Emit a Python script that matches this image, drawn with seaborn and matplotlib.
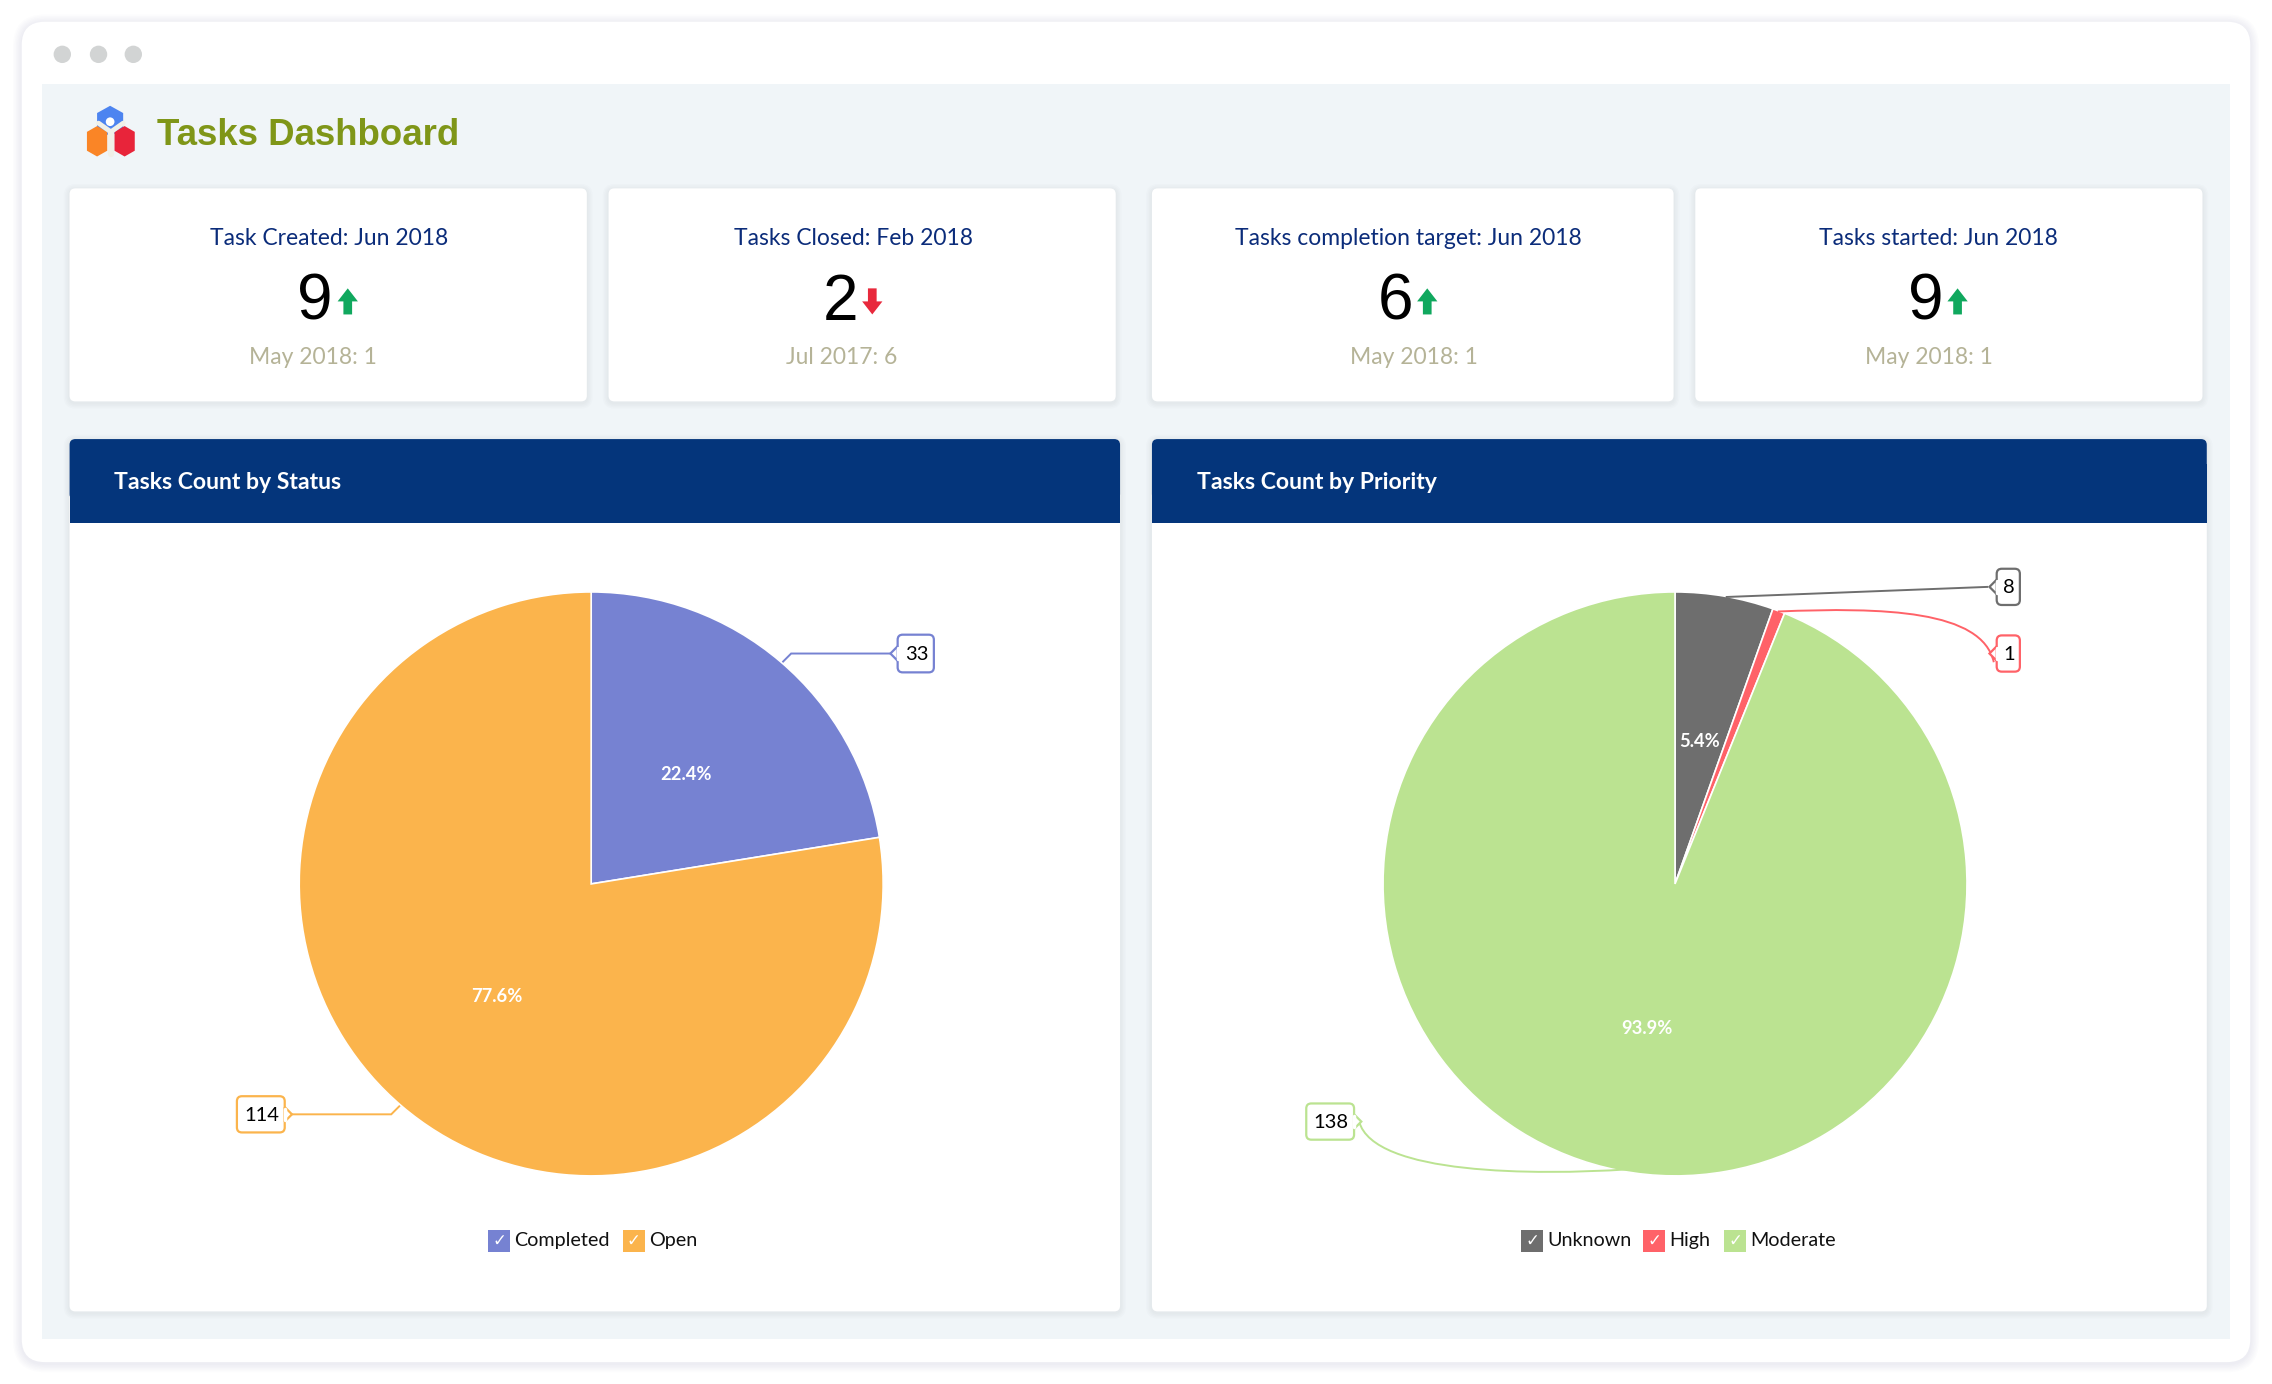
import matplotlib
matplotlib.use("Agg")
import matplotlib.pyplot as plt
import seaborn as sb
from matplotlib.patches import FancyBboxPatch, Polygon, Rectangle, Circle, PathPatch
from matplotlib.path import Path

# kpi cards
kpi_titles = ["Task Created: Jun 2018", "Tasks Closed: Feb 2018", "Tasks completion target: Jun 2018", "Tasks started: Jun 2018"]
kpi_values = [9, 2, 6, 9]
kpi_prev = ["May 2018: 1", "Jul 2017: 6", "May 2018: 1", "May 2018: 1"]
kpi_up = [True, False, True, True]

# pies
status_labels = ["Completed", "Open"]
status_counts = [33, 114]
status_colors = ["#7682D2", "#FBB44C"]
priority_labels = ["Unknown", "High", "Moderate"]
priority_counts = [8, 1, 138]
priority_colors = ["#6E6E6E", "#FF6268", "#BBE391"]

NAVY = "#04357B"
W, H = 1568, 955.1

sb.set_theme(style="white")
plt.rcParams["font.family"] = ["Lato", "DejaVu Sans"]

fig = plt.figure(figsize=(22.72, 13.84), dpi=100, facecolor="white")
bg = fig.add_axes([0, 0, 1, 1])
bg.set_xlim(0, W)
bg.set_ylim(H, 0)
bg.axis("off")


def box(ax, x0, y0, x1, y1, r, color, z=1, **kw):
    p = FancyBboxPatch((x0 + r, y0 + r), x1 - x0 - 2 * r, y1 - y0 - 2 * r,
                       boxstyle="round,pad=%f,rounding_size=%f" % (r, r),
                       fc=color, ec=kw.pop("ec", "none"), zorder=z, **kw)
    ax.add_patch(p)
    return p


def shadow(ax, x0, y0, x1, y1, r, spread, alpha, z=1):
    for i in range(spread, 0, -1):
        box(ax, x0 - i, y0 - i + 1, x1 + i, y1 + i + 1, r + i, "#5A6E80", z=z, alpha=alpha)


# browser window
shadow(bg, 15, 15, 1553, 940, 16, 6, 0.014)
box(bg, 15, 15, 1553, 940, 16, "white", z=2)
for x in [43, 68, 92]:
    bg.add_patch(Circle((x, 37.5), 6, fc="#D2D4D4", ec="none", zorder=3))
bg.add_patch(Rectangle((29, 58), 1510, 866, fc="#F0F5F8", ec="none", zorder=3))

# logo
bg.add_patch(Polygon([(76, 73), (85, 78), (85, 89), (76, 94), (67, 89), (67, 78)], fc="#4D84F0", ec="none", zorder=4))
bg.add_patch(Circle((76, 84), 3, fc="white", ec="none", zorder=5))
bg.add_patch(Polygon([(60, 91), (67, 87), (74, 91), (74, 104), (67, 108), (60, 104)], fc="#FA8526", ec="none", zorder=4))
bg.add_patch(Polygon([(79, 91), (86, 87), (93, 91), (93, 104), (86, 108), (79, 104)], fc="#E8243A", ec="none", zorder=4))
bg.plot([68, 76.5, 85], [85, 91, 85], color="#F0F0E8", lw=3.5, zorder=7)
bg.plot([76.5, 76.5], [91, 106], color="#F0F0E8", lw=4.5, zorder=7)
bg.text(108.5, 93.5, "Tasks Dashboard", fontsize=26.4, fontweight="bold", family="Liberation Sans",
        color="#7F9618", va="center", ha="left", zorder=6)

# kpi row
card_x = [(48, 405), (420, 770), (795, 1155), (1170, 1520)]
title_x = [227, 589, 972, 1338]
value_x = [217, 580, 963, 1329]
arrow_x = [240, 602, 985, 1351]
prev_x = [216, 581, 976, 1331]
for i, (x0, x1) in enumerate(card_x):
    shadow(bg, x0, 130, x1, 277, 4, 4, 0.018, z=4)
    box(bg, x0, 130, x1, 277, 4, "white", z=5)
    bg.text(title_x[i], 164.5, kpi_titles[i], fontsize=16.5, color="#0B2C7A", ha="center", va="center", zorder=6)
    bg.text(value_x[i], 209, str(kpi_values[i]), fontsize=46, color="black", ha="center", va="center",
            family="Liberation Sans", zorder=6)
    ax_ = arrow_x[i]
    if kpi_up[i]:
        arrow = [(ax_, 199), (ax_ + 7, 208), (ax_ + 3, 208), (ax_ + 3, 217), (ax_ - 3, 217), (ax_ - 3, 208), (ax_ - 7, 208)]
        col = "#10A85E"
    else:
        arrow = [(ax_, 217), (ax_ + 7, 208), (ax_ + 3, 208), (ax_ + 3, 199), (ax_ - 3, 199), (ax_ - 3, 208), (ax_ - 7, 208)]
        col = "#E8293C"
    bg.add_patch(Polygon(arrow, fc=col, ec="none", zorder=6))
    bg.text(prev_x[i], 246.5, kpi_prev[i], fontsize=16.5, color="#B5B397", ha="center", va="center", zorder=6)

# chart panels
panels = [(48, 773, "Tasks Count by Status"), (795, 1523, "Tasks Count by Priority")]
for x0, x1, name in panels:
    shadow(bg, x0, 303, x1, 905, 4, 4, 0.018, z=4)
    box(bg, x0, 303, x1, 905, 4, "white", z=5)
    box(bg, x0, 303, x1, 345, 4, NAVY, z=6)
    bg.add_patch(Rectangle((x0, 320), x1 - x0, 41, fc=NAVY, ec="none", zorder=6))
    bg.text(x0 + 31, 333, name, fontsize=16.6, fontweight="bold", color="white", ha="left", va="center", zorder=7)


def pct_label(p):
    return "%.1f%%" % p if p > 1 else ""


def draw_pie(cx, cy, r, counts, colors):
    pie_ax = fig.add_axes([(cx - r) / W, 1 - (cy + r) / H, 2 * r / W, 2 * r / H])
    pal = sb.color_palette(colors)
    wedges, texts, autos = pie_ax.pie(counts, colors=pal, startangle=90, counterclock=False, radius=1,
                                      autopct=pct_label, pctdistance=0.5,
                                      wedgeprops={"edgecolor": "white", "linewidth": 1.2},
                                      textprops={"color": "white", "fontsize": 13.2, "fontweight": "bold"})
    for t in autos:
        t.set_y(t.get_position()[1] - 0.006)
    pie_ax.set_xlim(-1, 1)
    pie_ax.set_ylim(-1, 1)
    pie_ax.set_aspect("equal")
    return pie_ax


draw_pie(408, 610, 201.5, status_counts, status_colors)
draw_pie(1156, 610, 201.5, priority_counts, priority_colors)

# overlay for callouts and legends
top = fig.add_axes([0, 0, 1, 1])
top.set_xlim(0, W)
top.set_ylim(H, 0)
top.axis("off")
top.patch.set_alpha(0)


def callout(cx, cy, w, h, txt, color, side):
    box(top, cx - w / 2, cy - h / 2, cx + w / 2, cy + h / 2, 3.5, "white", z=10, ec=color, lw=1.6)
    sgn = -1 if side == "left" else 1
    ex = cx + sgn * w / 2
    top.add_patch(Polygon([(ex, cy - 5), (ex + sgn * 5, cy), (ex, cy + 5)], fc="white", ec=color, lw=1.6, zorder=10))
    top.plot([ex, ex], [cy - 4, cy + 4], color="white", lw=2.5, zorder=11)
    top.text(cx + 0.5, cy + 0.5, txt, fontsize=14.5, color="black", ha="center", va="center", zorder=12)


def curve(verts, codes, color):
    top.add_patch(PathPatch(Path(verts, codes), fc="none", ec=color, lw=1.4, zorder=9))


L, C = Path.LINETO, Path.CURVE4
M = Path.MOVETO
# status leaders
curve([(540, 457), (546, 451), (620, 451)], [M, L, L], status_colors[0])
callout(632, 451, 25, 26, str(status_counts[0]), status_colors[0], "left")
curve([(276, 763), (270, 769), (198, 769)], [M, L, L], status_colors[1])
callout(180, 769, 33, 25, str(status_counts[1]), status_colors[1], "right")
# priority leaders
curve([(1191, 412), (1372, 405)], [M, L], priority_colors[0])
callout(1386, 405, 16, 25, str(priority_counts[0]), priority_colors[0], "left")
curve([(1227, 422), (1300, 419), (1368, 421), (1376, 457)], [M, C, C, C], priority_colors[1])
callout(1386, 451, 16, 25, str(priority_counts[1]), priority_colors[1], "left")
curve([(1123, 807), (1060, 811), (948, 811), (938, 774)], [M, C, C, C], priority_colors[2])
callout(918, 774, 33, 25, str(priority_counts[2]), priority_colors[2], "right")


def legend(xs, labels, colors):
    for x, lab, col in zip(xs, labels, colors):
        top.add_patch(Rectangle((x, 849), 15, 15, fc=col, ec="none", zorder=10))
        top.text(x + 7.5, 856.5, "\u2713", fontsize=12, color="white", ha="center", va="center",
                 family="DejaVu Sans", zorder=11)
        top.text(x + 18, 856, lab, fontsize=14.2, color="#111111", ha="left", va="center", zorder=11)


legend([337, 430], status_labels, status_colors)
legend([1050, 1134, 1190], priority_labels, priority_colors)

plt.savefig("out.png", dpi=100)
